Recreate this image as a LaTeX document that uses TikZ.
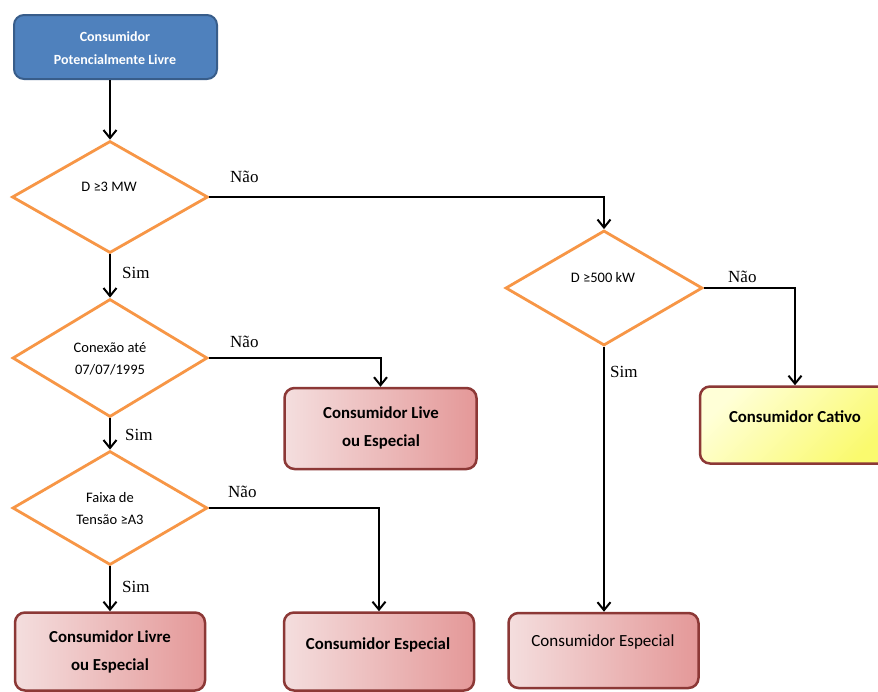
\documentclass[tikz,border=0pt]{standalone}
\usepackage{fontspec}
\setmainfont{Liberation Serif}
\newfontfamily\calfont{Carlito}
\usetikzlibrary{shapes.geometric,arrows.meta}
\definecolor{bluefill}{RGB}{79,129,189}
\definecolor{blueedge}{RGB}{56,93,138}
\definecolor{orangeedge}{RGB}{247,150,70}
\definecolor{pinklight}{RGB}{244,222,222}
\definecolor{pinkdark}{RGB}{228,152,152}
\definecolor{rededge}{RGB}{140,56,54}
\definecolor{yellowlight}{RGB}{255,255,215}
\definecolor{yellowdark}{RGB}{250,250,110}
\tikzset{
  decision/.style={diamond, draw=orangeedge, line width=2.8pt, fill=white, inner sep=0pt, minimum width=196pt, minimum height=114pt},
  dtext/.style={font=\calfont\fontsize{14.5}{22}\selectfont, align=center, inner sep=0pt},
  startbox/.style={draw=blueedge, line width=2pt, fill=bluefill, rounded corners=10pt, minimum width=203pt, minimum height=64pt, inner sep=0pt},
  starttext/.style={font=\calfont\bfseries\fontsize{14}{23}\selectfont, text=white, align=center, inner sep=0pt},
  endbox/.style={draw=rededge, line width=2.5pt, left color=pinklight, right color=pinkdark, rounded corners=10pt, minimum width=190pt, minimum height=78pt, inner sep=0pt},
  yellowbox/.style={draw=rededge, line width=2.5pt, shading=axis, top color=yellowlight, bottom color=yellowdark, shading angle=45, rounded corners=10pt, minimum width=190pt, minimum height=77pt, inner sep=0pt},
  btext/.style={font=\calfont\bfseries\fontsize{16.8}{28}\selectfont, align=center, inner sep=0pt},
  rtext/.style={font=\calfont\fontsize{17}{28}\selectfont, align=center, inner sep=0pt},
  conn/.style={line width=2pt, -{Straight Barb[length=8pt,width=13pt,line width=2pt]}},
  lbl/.style={font=\fontsize{17}{20}\selectfont, anchor=base west, inner sep=0pt},
}
\begin{document}
\begin{tikzpicture}[x=1pt,y=-1pt]
\useasboundingbox[fill=white] (0,0) rectangle (878,691);
% start
\node[startbox] (start) at (115.5,47) {};
\node[starttext] (startt) at (115,48) {Consumidor\\Potencialmente Livre};
% decisions
\node[decision, minimum height=112pt] (d1) at (110,197) {};
\node[dtext] (d1t) at (109,187) {D ≥3 MW};
\node[decision, minimum height=118pt, minimum width=195pt] (d3) at (110,358) {};
\node[dtext] (d3t) at (110,359) {Conexão até\\07/07/1995};
\node[decision, minimum width=195pt] (d4) at (110,508) {};
\node[dtext] (d4t) at (110,509) {Faixa de\\Tensão ≥A3};
\node[decision, minimum height=115pt, minimum width=197pt] (d2) at (604,288) {};
\node[dtext] (d2t) at (603,278) {D ≥500 kW};
% end boxes
\node[endbox, minimum width=192pt, minimum height=81pt] (b1) at (380.5,428.5) {};
\node[btext] (b1t) at (381,428) {Consumidor Live\\ou Especial};
\node[endbox] (b2) at (110,651.5) {};
\node[btext] (b2t) at (110,652) {Consumidor Livre\\ou Especial};
\node[endbox] (b3) at (379,651.5) {};
\node[btext] (b3t) at (378,645) {Consumidor Especial};
\node[endbox, minimum height=75pt] (b4) at (603.5,650.5) {};
\node[rtext] (b4t) at (603,642) {Consumidor Especial};
\node[yellowbox] (cat) at (795,425) {};
\node[btext] (catt) at (795,417) {Consumidor Cativo};
% connectors
\draw[conn] (d1.north |- start.south) -- (d1.north);
\draw[conn] (d1.east) -| (d2.north);
\draw[conn] (d1.south) -- (d3.north);
\draw[conn] (d3.east) -| (b1.north);
\draw[conn] (d3.south) -- (d4.north);
\draw[conn] (d4.east) -| (b3.north);
\draw[conn] (d4.south) -- (b2.north);
\draw[conn] (d2.south) -- (d2.south |- b4.north);
\draw[conn] (d2.east) -| (cat.north);
% labels
\node[lbl] (l1n) at (230,182) {Não};
\node[lbl] (l1s) at (122,278) {Sim};
\node[lbl] (l3n) at (230,347) {Não};
\node[lbl] (l3s) at (125,440) {Sim};
\node[lbl] (l4n) at (228,497) {Não};
\node[lbl] (l4s) at (122,592) {Sim};
\node[lbl] (l2n) at (728,282) {Não};
\node[lbl] (l2s) at (610,377) {Sim};
\end{tikzpicture}
\end{document}
